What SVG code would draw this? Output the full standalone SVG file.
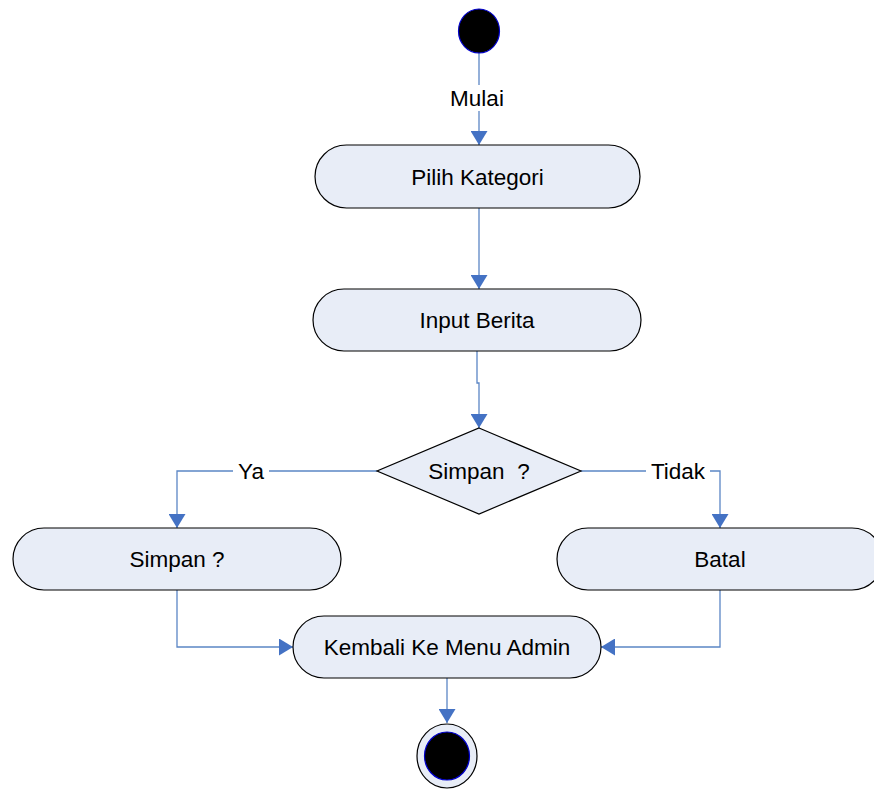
<svg xmlns="http://www.w3.org/2000/svg" width="874" height="789" viewBox="0 0 874 789">
<defs>
<style>
.node{fill:#E8EDF7;stroke:#000;stroke-width:1.2}
.lbl{font-family:"Liberation Sans",Arial,sans-serif;font-size:22.5px;fill:#000;text-anchor:middle;dominant-baseline:central;white-space:pre}
.con{fill:none;stroke:#5B86C5;stroke-width:1.3}
.bg{fill:#fff}
</style>
<marker id="ah" viewBox="0 0 14 17" refX="14" refY="8.5" markerWidth="14" markerHeight="17" markerUnits="userSpaceOnUse" orient="auto">
<path d="M0,0 L14,8.5 L0,17 Z" fill="#4472C4"/>
</marker>
</defs>
<rect width="874" height="789" fill="#fff"/>
<g id="connectors">
<path class="con" d="M479,53 V145" marker-end="url(#ah)"/>
<rect class="bg" x="446" y="85" width="64" height="26"/>
<text class="lbl" x="477" y="98">Mulai</text>
<path class="con" d="M479,208 V289" marker-end="url(#ah)"/>
<path class="con" d="M477,351 V383 H479 V428" marker-end="url(#ah)"/>
<path class="con" d="M377,471 H177 V528" marker-end="url(#ah)"/>
<rect class="bg" x="233" y="458" width="36" height="26"/>
<text class="lbl" x="251" y="471">Ya</text>
<path class="con" d="M581,471 H720 V528" marker-end="url(#ah)"/>
<rect class="bg" x="646" y="458" width="64" height="26"/>
<text class="lbl" x="678" y="471">Tidak</text>
<path class="con" d="M177,590 V647 H293" marker-end="url(#ah)"/>
<path class="con" d="M720,590 V647 H601" marker-end="url(#ah)"/>
<path class="con" d="M447,678 V723" marker-end="url(#ah)"/>
</g>
<g id="start">
<ellipse cx="479" cy="31" rx="20.5" ry="22" fill="#000" stroke="#0000CC" stroke-width="1.2"/>
</g>
<g id="pilih-kategori">
<rect class="node" x="315" y="145" width="325" height="63" rx="31.5" ry="31.5"/>
<text class="lbl" x="477.5" y="177">Pilih Kategori</text>
</g>
<g id="input-berita">
<rect class="node" x="313" y="289" width="328" height="62" rx="31" ry="31"/>
<text class="lbl" x="477" y="320">Input Berita</text>
</g>
<g id="decision">
<polygon class="node" points="479,428 581,471 479,514 377,471"/>
<text class="lbl" x="479" y="471">Simpan  ?</text>
</g>
<g id="simpan">
<rect class="node" x="13" y="528" width="328" height="62" rx="31" ry="31"/>
<text class="lbl" x="177" y="559">Simpan ?</text>
</g>
<g id="batal">
<rect class="node" x="557" y="528" width="326" height="62" rx="31" ry="31"/>
<text class="lbl" x="720" y="559">Batal</text>
</g>
<g id="kembali">
<rect class="node" x="293" y="616" width="308" height="62" rx="31" ry="31"/>
<text class="lbl" x="447" y="647">Kembali Ke Menu Admin</text>
</g>
<g id="end">
<ellipse cx="447" cy="756" rx="30" ry="32" fill="#E8EDF7" stroke="#000" stroke-width="1.2"/>
<ellipse cx="447" cy="756" rx="22.5" ry="24" fill="#000" stroke="#0000CC" stroke-width="1.2"/>
</g>
</svg>
